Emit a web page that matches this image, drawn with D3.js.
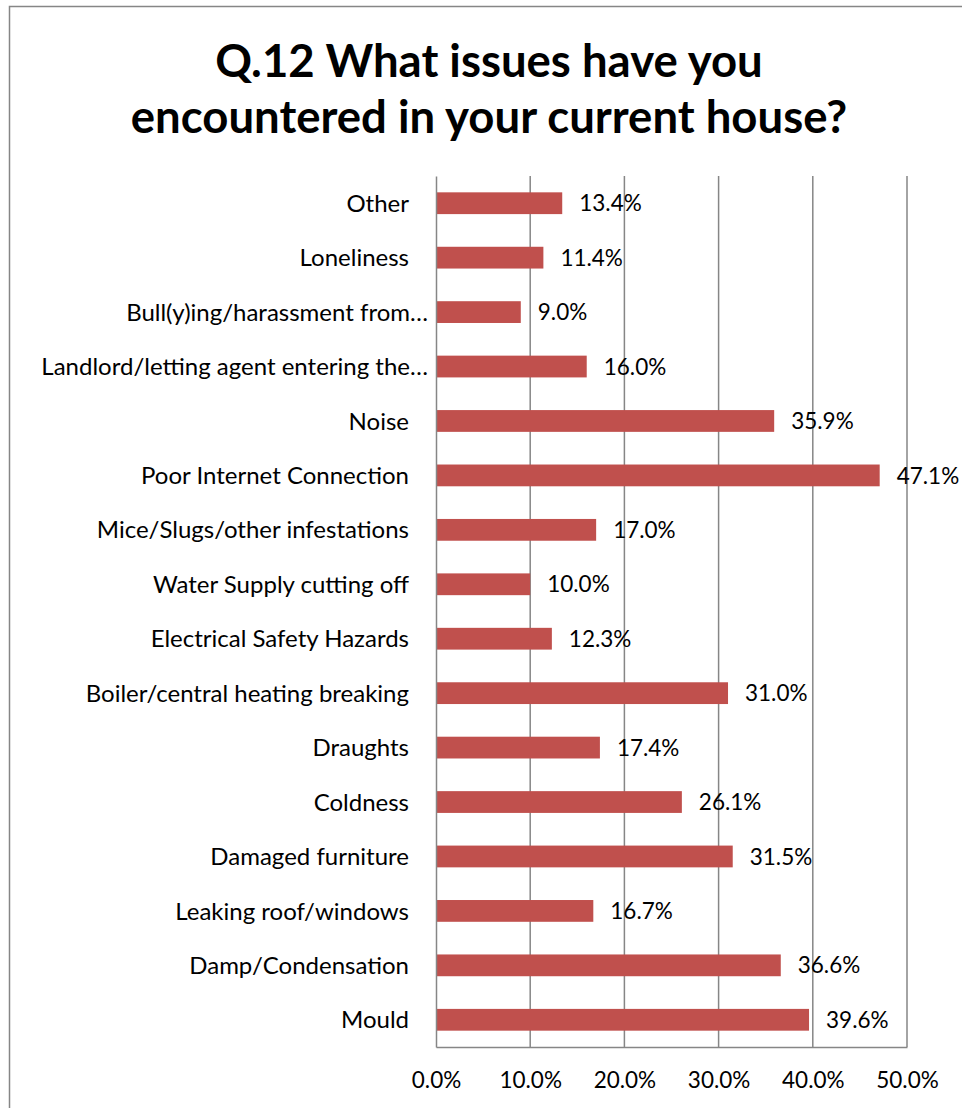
<!DOCTYPE html>
<html>
<head>
<meta charset="utf-8">
<script src="https://cdn.jsdelivr.net/npm/d3@7"></script>
<style>
  html, body { margin: 0; padding: 0; background: #fff; }
  svg { display: block; }
  text { font-family: Lato, "Open Sans", sans-serif; fill: #000; }
</style>
</head>
<body>
<svg id="chart" width="962" height="1108"></svg>
<script>
// Survey responses: share of respondents reporting each issue (%)
const categories = [
  "Other",
  "Loneliness",
  "Bull(y)ing/harassment from…",
  "Landlord/letting agent entering the…",
  "Noise",
  "Poor Internet Connection",
  "Mice/Slugs/other infestations",
  "Water Supply cutting off",
  "Electrical Safety Hazards",
  "Boiler/central heating breaking",
  "Draughts",
  "Coldness",
  "Damaged furniture",
  "Leaking roof/windows",
  "Damp/Condensation",
  "Mould"
];
const values = [13.4, 11.4, 9.0, 16.0, 35.9, 47.1, 17.0, 10.0, 12.3, 31.0, 17.4, 26.1, 31.5, 16.7, 36.6, 39.6];
const xTicks = [0, 10, 20, 30, 40, 50];
const titleLines = ["Q.12 What issues have you", "encountered in your current house?"];

const svg = d3.select("#chart");
const W = 962, H = 1108;
const FONT = "Lato, 'Open Sans', sans-serif";

// Chart frame
svg.append("rect")
  .attr("x", 9.5).attr("y", 6.5)
  .attr("width", W + 10).attr("height", H + 10)
  .attr("fill", "#fff").attr("stroke", "#868686").attr("stroke-width", 1.5);

// Title
const title = svg.append("text")
  .attr("text-anchor", "middle")
  .attr("font-weight", "bold")
  .attr("font-size", 45.5);
titleLines.forEach((t, i) => {
  title.append("tspan").attr("x", 489).attr("y", 77 + i * 56).text(t);
});

const plot = { left: 436, right: 907, top: 176, bottom: 1047 };

const x = d3.scaleLinear().domain([0, 50]).range([plot.left, plot.right]);
const y = d3.scaleBand().domain(categories).range([plot.top, plot.bottom]).paddingInner(0.6).paddingOuter(0.3);

// Vertical gridlines
svg.append("g")
  .selectAll("line")
  .data(xTicks.slice(1))
  .join("line")
  .attr("x1", d => x(d)).attr("x2", d => x(d))
  .attr("y1", plot.top).attr("y2", plot.bottom)
  .attr("stroke", "#868686").attr("stroke-width", 1.5);

// Bars
svg.append("g")
  .selectAll("rect")
  .data(values)
  .join("rect")
  .attr("x", x(0))
  .attr("y", (d, i) => y(categories[i]))
  .attr("width", d => x(d) - x(0))
  .attr("height", y.bandwidth())
  .attr("fill", "#C0504D");

// Value labels
svg.append("g")
  .selectAll("text")
  .data(values)
  .join("text")
  .attr("x", d => x(d) + 17)
  .attr("y", (d, i) => y(categories[i]) + y.bandwidth() / 2)
  .attr("dy", "0.36em")
  .attr("font-size", 22.5)
  .text(d => d.toFixed(1) + "%");

// Category axis (truncated labels sit closer to the axis)
const yAxis = svg.append("g")
  .attr("transform", `translate(${plot.left},0)`)
  .call(d3.axisLeft(y).tickSize(0).tickPadding(0));
yAxis.select(".domain").attr("stroke", "#868686").attr("stroke-width", 1.5);
yAxis.selectAll("text")
  .attr("x", d => d.endsWith("…") ? -8 : -27)
  .attr("font-size", 24).attr("font-family", FONT).attr("fill", "#000").attr("dy", "0.36em");

// Value axis
const xAxis = svg.append("g")
  .attr("transform", `translate(0,${plot.bottom})`)
  .call(d3.axisBottom(x).tickValues(xTicks).tickSize(0).tickPadding(25).tickFormat(d => d.toFixed(1) + "%"));
xAxis.select(".domain").attr("stroke", "#868686").attr("stroke-width", 1.5);
xAxis.selectAll("text").attr("font-size", 22.5).attr("font-family", FONT).attr("fill", "#000");
</script>
</body>
</html>
